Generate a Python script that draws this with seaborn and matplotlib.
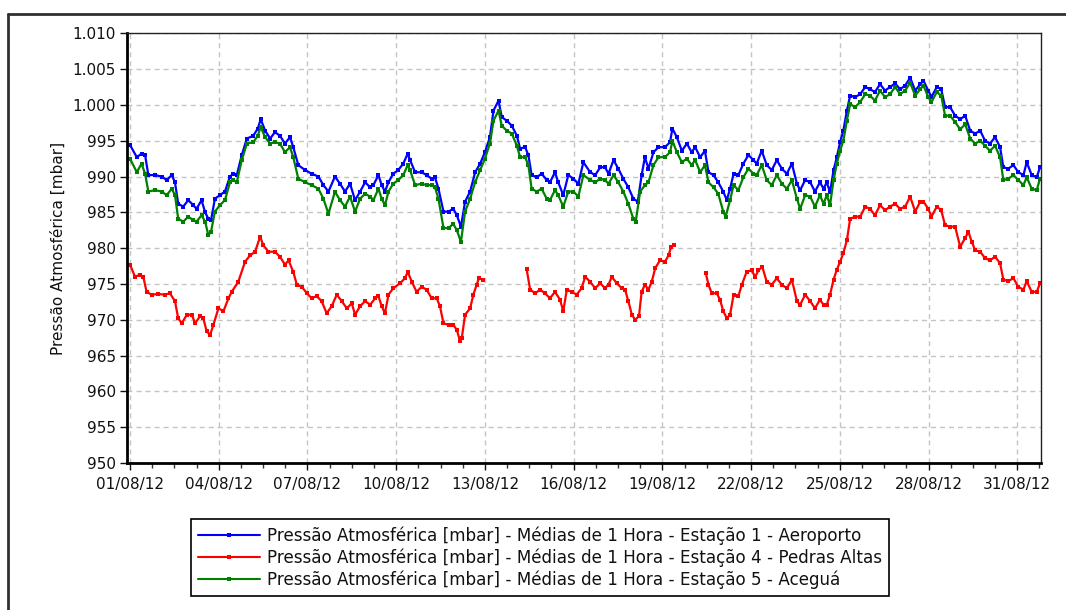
import numpy as np
import pandas as pd
import matplotlib
matplotlib.use("Agg")
import matplotlib.pyplot as plt
from matplotlib.lines import Line2D
from matplotlib.ticker import MultipleLocator
import seaborn as sns

# ---------------- data (day offset from 01/08/12 00:00, pressure in mbar) ----------------
x_tick_days = [0, 3, 6, 9, 12, 15, 18, 21, 24, 27, 30]
x_tick_labels = ["01/08/12", "04/08/12", "07/08/12", "10/08/12", "13/08/12", "16/08/12",
                 "19/08/12", "22/08/12", "25/08/12", "28/08/12", "31/08/12"]
y_ticks = [950, 955, 960, 965, 970, 975, 980, 985, 990, 995, 1000, 1005, 1010]
y_tick_labels = ["950", "955", "960", "965", "970", "975", "980", "985", "990", "995",
                 "1.000", "1.005", "1.010"]

series_names = [
    "Pressão Atmosférica [mbar] - Médias de 1 Hora - Estação 1 - Aeroporto",
    "Pressão Atmosférica [mbar] - Médias de 1 Hora - Estação 4 - Pedras Altas",
    "Pressão Atmosférica [mbar] - Médias de 1 Hora - Estação 5 - Aceguá",
]
series_colors = ["#0000ff", "#ff0000", "#008000"]

aero_days = [0, 0.23, 0.39, 0.51, 0.62, 0.85, 1.07, 1.24, 1.41, 1.52, 1.63, 1.8, 1.97, 2.14, 2.25,
             2.42, 2.54, 2.65, 2.74, 2.87, 3.04, 3.21, 3.38, 3.49, 3.61, 3.78, 3.95, 4.17, 4.32,
             4.42, 4.57, 4.74, 4.9, 5.07, 5.24, 5.41, 5.52, 5.69, 5.92, 6.14, 6.37, 6.54, 6.71,
             6.93, 7.1, 7.27, 7.44,
             7.61, 7.78, 7.95, 8.12, 8.23, 8.4, 8.51, 8.62, 8.74, 8.9, 9.07, 9.24, 9.39, 9.47,
             9.64, 9.86, 10.03, 10.2, 10.31, 10.43, 10.6, 10.77, 10.93, 11.05, 11.19, 11.33,
             11.5, 11.67, 11.84, 12.0, 12.17, 12.29, 12.46, 12.57, 12.74, 12.91, 13.08, 13.19,
             13.36, 13.47, 13.58, 13.75, 13.92, 14.09, 14.2, 14.37, 14.48, 14.65, 14.82, 14.99,
             15.16, 15.33,
             15.56, 15.73, 15.9, 16.06, 16.18, 16.35, 16.51, 16.68, 16.85, 17.02, 17.17, 17.3,
             17.41, 17.53, 17.7, 17.87, 18.09, 18.26, 18.34, 18.49, 18.66, 18.83, 18.99, 19.11,
             19.28, 19.44, 19.56, 19.73, 19.89, 20.06, 20.18, 20.29, 20.41, 20.57, 20.74, 20.91,
             21.08, 21.19, 21.36, 21.53, 21.7, 21.87, 22.04, 22.21, 22.38, 22.55, 22.66, 22.83,
             23.0, 23.16, 23.33,
             23.45, 23.56, 23.67, 23.79, 23.9, 24.01, 24.12, 24.24, 24.35, 24.52, 24.69, 24.86,
             25.02, 25.19, 25.36, 25.53, 25.7, 25.87, 26.04, 26.21, 26.38, 26.55, 26.72, 26.83,
             26.99, 27.1, 27.28, 27.43, 27.56, 27.73, 27.9, 28.07, 28.24, 28.41, 28.58, 28.75,
             28.91, 29.08, 29.25, 29.42, 29.53, 29.7, 29.87, 30.04, 30.21, 30.32, 30.49, 30.66,
             30.77]
aero_vals = [994.4, 992.7, 993.2, 993.0, 990.2, 990.2, 990.0, 989.5, 990.2, 989.2, 986.2, 985.8,
             986.7, 986.0, 985.5, 986.7, 985.0, 984.1, 983.9, 986.9, 987.4, 987.9, 990.0, 990.4,
             990.2, 993.0, 995.3, 995.7, 996.7, 998.0, 996.4, 995.3, 996.2, 995.7, 994.6, 995.5,
             994.1, 991.6, 990.9, 990.4, 990.0, 988.8, 987.9, 990.0, 989.0, 987.9, 989.0,
             986.7, 987.9, 989.2, 988.5, 988.8, 990.2, 988.8, 987.9, 989.2, 990.4, 990.9, 991.8,
             993.2, 992.3, 990.6, 990.6, 990.2, 989.7, 989.9, 988.3, 985.1, 985.1, 985.5, 984.6,
             983.0, 986.5, 987.9, 990.6, 991.8, 993.4, 995.5, 999.2, 1000.6, 998.3, 997.8, 997.1,
             995.7, 993.9, 994.1, 993.0, 990.2, 989.9, 990.4, 989.5, 989.2, 990.6, 989.2, 987.4,
             990.2, 989.7, 989.0, 992.0,
             990.6, 990.2, 991.3, 991.3, 990.4, 992.3, 991.1, 989.7, 988.5, 986.9, 986.5, 990.2,
             992.7, 991.1, 993.4, 994.1, 994.1, 994.8, 996.7, 995.5, 993.6, 994.6, 993.4, 994.1,
             992.7, 993.6, 990.6, 990.2, 989.2, 987.9, 986.7, 988.3, 990.4, 990.2, 991.8, 993.0,
             992.3, 991.8, 993.6, 991.6, 990.9, 992.3, 991.1, 990.4, 991.8, 989.0, 988.1, 989.5,
             989.2, 987.9, 989.2,
             988.3, 989.2, 987.8, 990.9, 992.7, 994.8, 996.4, 999.2, 1001.3, 1001.1, 1001.5,
             1002.5, 1002.2, 1001.8, 1002.9, 1002.0, 1002.5, 1003.0, 1002.2, 1002.7, 1003.8,
             1002.0, 1002.9, 1003.4, 1002.0, 1001.1, 1002.5, 1002.2, 999.7, 999.7, 998.5, 998.0,
             998.5, 996.4, 996.0, 996.4, 995.0, 994.6, 995.5, 994.1, 991.3, 991.1, 991.6, 990.6,
             990.2, 992.0, 990.2, 989.9, 991.3]

acegua_days = [0, 0.23, 0.39, 0.51, 0.62, 0.85, 1.07, 1.24, 1.41, 1.52, 1.63, 1.8, 1.97, 2.14,
               2.25, 2.42, 2.54, 2.65, 2.74, 2.87, 3.04, 3.21, 3.38, 3.49, 3.61, 3.78, 3.95,
               4.17, 4.32, 4.42, 4.57, 4.74, 4.9, 5.07, 5.24, 5.41, 5.52, 5.69, 5.92, 6.14,
               6.37, 6.54, 6.71, 6.93, 7.1, 7.27, 7.44,
               7.61, 7.78, 7.95, 8.12, 8.23, 8.4, 8.51, 8.62, 8.74, 8.9, 9.07, 9.24, 9.39, 9.47,
               9.64, 9.86, 10.03, 10.2, 10.31, 10.43, 10.6, 10.77, 10.93, 11.05, 11.19, 11.33,
               11.5, 11.67, 11.84, 12.0, 12.17, 12.29, 12.46, 12.57, 12.74, 12.91, 13.08, 13.19,
               13.36, 13.47, 13.58, 13.75, 13.92, 14.09, 14.2, 14.37, 14.48, 14.65, 14.82,
               14.99, 15.16, 15.33,
               15.56, 15.73, 15.9, 16.06, 16.18, 16.35, 16.51, 16.68, 16.85, 17.02, 17.1, 17.25,
               17.41, 17.53, 17.7, 17.87, 18.09, 18.26, 18.34, 18.49, 18.66, 18.83, 18.99,
               19.11, 19.28, 19.44, 19.56, 19.73, 19.89, 20.06, 20.14, 20.29, 20.41, 20.57,
               20.74, 20.91, 21.08, 21.19, 21.36, 21.53, 21.7, 21.87, 22.04, 22.21, 22.38,
               22.55, 22.66, 22.83, 23.0, 23.16, 23.33,
               23.45, 23.56, 23.67, 23.79, 23.9, 24.01, 24.12, 24.24, 24.35, 24.52, 24.69,
               24.86, 25.02, 25.19, 25.36, 25.53, 25.7, 25.87, 26.04, 26.21, 26.38, 26.55,
               26.72, 26.83, 26.99, 27.1, 27.28, 27.43, 27.56, 27.73, 27.9, 28.07, 28.24, 28.41,
               28.58, 28.75, 28.91, 29.08, 29.25, 29.42, 29.53, 29.7, 29.87, 30.04, 30.21,
               30.32, 30.49, 30.66, 30.77]
acegua_vals = [992.5, 990.6, 991.8, 990.4, 987.9, 988.1, 987.9, 987.4, 988.3, 987.4, 984.1,
               983.7, 984.4, 983.9, 983.7, 984.6, 983.7, 981.8, 982.3, 985.1, 986.0, 986.7,
               989.2, 989.5, 989.2, 992.3, 994.6, 994.8, 995.7, 996.9, 995.5, 994.6, 994.8,
               994.6, 993.4, 994.1, 992.7, 989.7, 989.2, 988.8, 988.3, 986.9, 984.8, 987.9,
               986.7, 985.8, 987.2,
               985.1, 986.9, 987.6, 987.2, 986.7, 988.3, 986.9, 986.0, 987.9, 989.0, 989.5,
               990.2, 991.6, 990.9, 988.8, 989.0, 988.8, 988.8, 988.5, 986.9, 982.8, 982.8,
               983.4, 982.5, 980.9, 985.1, 986.9, 989.2, 990.9, 992.5, 994.6, 997.8, 999.2,
               997.1, 996.4, 996.0, 994.3, 992.7, 992.7, 991.6, 988.3, 987.9, 988.3, 986.9,
               986.7, 988.1, 987.4, 985.8, 987.9, 987.9, 987.2, 990.2,
               989.5, 989.2, 989.7, 989.5, 989.0, 990.2, 989.2, 987.9, 986.2, 984.1, 983.7,
               987.9, 988.8, 989.2, 991.6, 992.7, 992.7, 993.4, 995.0, 993.4, 992.0, 992.5,
               991.6, 992.3, 990.6, 991.6, 989.2, 988.5, 987.6, 985.1, 984.4, 986.7, 988.8,
               988.1, 989.9, 991.1, 990.4, 990.2, 991.6, 989.5, 988.8, 990.2, 989.0, 988.3,
               989.5, 986.9, 985.5, 987.4, 987.2, 985.8, 987.4,
               986.2, 987.4, 986.0, 989.5, 991.8, 993.6, 995.0, 997.8, 1000.1, 999.7, 1000.4,
               1001.5, 1001.3, 1000.6, 1002.0, 1001.1, 1001.5, 1002.5, 1001.5, 1002.0, 1003.1,
               1001.3, 1002.2, 1002.7, 1001.1, 1000.4, 1001.8, 1001.3, 998.5, 998.5, 997.6,
               996.6, 997.3, 995.3, 994.6, 995.0, 994.3, 993.6, 994.3, 992.7, 989.5, 989.7,
               990.2, 989.5, 988.8, 989.9, 988.3, 988.1, 989.7]

# Pedras Altas has two data gaps (NaN)
pedras_days = [0, 0.17, 0.34, 0.45, 0.56, 0.73, 0.96, 1.18, 1.35, 1.52, 1.63, 1.75, 1.92, 2.09,
               2.2, 2.37, 2.48, 2.59, 2.71, 2.82, 2.99, 3.16, 3.33, 3.44, 3.66, 3.89, 4.06,
               4.23, 4.4, 4.51, 4.68, 4.9, 5.07, 5.24, 5.36, 5.52, 5.64, 5.81, 5.98, 6.14, 6.31,
               6.48, 6.65, 6.82, 6.99, 7.16, 7.33, 7.5,
               7.61, 7.78, 7.95, 8.12, 8.29, 8.4, 8.51, 8.62, 8.74, 8.9, 9.13, 9.3, 9.39, 9.53,
               9.69, 9.86, 10.03, 10.2, 10.37, 10.48, 10.6, 10.77, 10.93, 11.05, 11.16, 11.22,
               11.33, 11.5, 11.61, 11.72, 11.8, 11.92,
               12.6,
               13.41, 13.53, 13.7, 13.87, 14.03, 14.2, 14.37, 14.54, 14.65, 14.77, 14.94, 15.1,
               15.27, 15.39, 15.56, 15.73, 15.9, 16.06, 16.18, 16.29, 16.46, 16.63, 16.74,
               16.85, 16.97, 17.08, 17.21, 17.3, 17.41, 17.53, 17.64, 17.76, 17.92, 18.09,
               18.21, 18.3, 18.41,
               18.9,
               19.47, 19.56, 19.67, 19.84, 19.95, 20.06, 20.18, 20.29, 20.41, 20.57, 20.69,
               20.85, 21.02, 21.14, 21.25, 21.38, 21.53, 21.7, 21.87, 22.04, 22.21, 22.38,
               22.55, 22.66, 22.83, 23.0, 23.16, 23.33,
               23.45, 23.56, 23.67, 23.79, 23.9, 24.01, 24.12, 24.24, 24.35, 24.52, 24.69,
               24.86, 25.02, 25.19, 25.36, 25.53, 25.7, 25.87, 26.04, 26.21, 26.38, 26.55,
               26.72, 26.83, 26.99, 27.1, 27.28, 27.43, 27.56, 27.73, 27.9, 28.07, 28.24, 28.35,
               28.46, 28.58, 28.75, 28.91, 29.08, 29.25, 29.42, 29.53, 29.7, 29.87, 30.04,
               30.21, 30.32, 30.49, 30.66, 30.77]
pedras_vals = [977.7, 976.0, 976.3, 976.0, 973.9, 973.5, 973.6, 973.5, 973.7, 972.6, 970.2,
               969.5, 970.7, 970.7, 969.5, 970.5, 970.2, 968.4, 967.9, 969.3, 971.6, 971.2,
               973.0, 973.9, 975.3, 978.1, 979.0, 979.5, 981.6, 980.4, 979.5, 979.5, 978.8,
               977.7, 978.3, 976.7, 974.9, 974.6, 973.7, 973.0, 973.3, 972.6, 970.9, 971.9,
               973.5, 972.6, 971.6, 972.3,
               970.7, 971.9, 972.6, 972.1, 973.0, 973.3, 971.9, 970.9, 973.5, 974.4, 975.1,
               975.8, 976.7, 975.3, 973.9, 974.6, 974.2, 973.0, 973.0, 971.9, 969.5, 969.3,
               969.3, 968.6, 967.0, 967.5, 970.7, 971.6, 973.5, 974.9, 975.8, 975.6,
               np.nan,
               977.1, 974.2, 973.7, 974.2, 973.7, 973.0, 973.9, 972.8, 971.2, 974.2, 973.9,
               973.5, 974.4, 976.0, 975.3, 974.4, 975.1, 974.4, 974.9, 976.0, 975.1, 974.4,
               974.2, 972.6, 970.7, 970.0, 970.5, 973.9, 974.9, 974.2, 975.3, 977.2, 978.3,
               978.1, 979.0, 980.2, 980.4,
               np.nan,
               976.5, 974.9, 973.7, 973.7, 972.8, 971.2, 970.2, 970.7, 973.5, 973.3, 974.9,
               976.7, 976.9, 976.0, 976.9, 977.4, 975.3, 974.9, 975.8, 974.9, 974.4, 975.6,
               972.6, 972.1, 973.5, 972.6, 971.6, 972.8,
               972.1, 972.1, 973.5, 975.6, 977.0, 978.1, 979.3, 981.1, 984.1, 984.4, 984.4,
               985.8, 985.5, 984.6, 986.0, 985.3, 985.8, 986.2, 985.5, 985.8, 987.2, 985.1,
               986.5, 986.5, 985.5, 984.4, 985.8, 985.3, 983.2, 983.0, 983.0, 980.2, 981.4,
               982.3, 980.9, 979.7, 979.5, 978.6, 978.3, 978.8, 977.9, 975.6, 975.4, 975.8,
               974.6, 974.2, 975.4, 973.9, 973.9, 975.1]

# ---------------- build long-form table ----------------
frames = []
for name, days, vals in zip(series_names,
                            [aero_days, pedras_days, acegua_days],
                            [aero_vals, pedras_vals, acegua_vals]):
    d = pd.DataFrame({"day": days, "mbar": vals})
    d["segment"] = d["mbar"].isna().cumsum()
    d["series"] = name
    frames.append(d.dropna())
df = pd.concat(frames, ignore_index=True)
df["unit"] = df["series"] + "_" + df["segment"].astype(str)

# ---------------- figure ----------------
sns.set_theme(style="white")
plt.rcParams['font.family'] = ['DejaVu Sans']
plt.rcParams['text.color'] = '#111111'
plt.rcParams['axes.labelcolor'] = '#111111'

fig = plt.figure(figsize=(10.66, 6.10), dpi=100)
ax = fig.add_axes([0.1196, 0.241, 0.8574, 0.7044])

sns.lineplot(data=df, x="day", y="mbar", hue="series", hue_order=series_names,
             palette=dict(zip(series_names, series_colors)), units="unit",
             estimator=None, sort=False, legend=False, ax=ax,
             linewidth=1.6, marker="s", markersize=2.6, markeredgewidth=0)

ax.set_xlim(-0.085, 30.82)
ax.set_ylim(950, 1010)
ax.set_xticks(x_tick_days)
ax.set_xticklabels(x_tick_labels)
ax.xaxis.set_minor_locator(MultipleLocator(0.75))
ax.set_yticks(y_ticks)
ax.set_yticklabels(y_tick_labels)
ax.set_xlabel("")
ax.set_ylabel("Pressão Atmosférica [mbar]", fontsize=11, color="#111111", labelpad=5)

ax.tick_params(axis="x", which="major", direction="out", length=5, width=1,
               pad=5, labelsize=11, colors="#111111", bottom=True)
ax.tick_params(axis="x", which="minor", direction="out", length=3.5, width=1,
               colors="#333333", bottom=True)
ax.tick_params(axis="y", which="major", direction="out", length=5, width=1,
               pad=3.5, labelsize=11, colors="#111111", left=True)

for side in ["left", "bottom"]:
    ax.spines[side].set_linewidth(2.0)
    ax.spines[side].set_color("black")
for side in ["top", "right"]:
    ax.spines[side].set_linewidth(1.0)
    ax.spines[side].set_color("#222222")

ax.grid(True, which="major", color="#c4c4c4", linestyle=(0, (3.6, 2.9)), linewidth=1.0)
ax.set_axisbelow(True)

# outer frame (top and left edges visible)
fig.add_artist(Line2D([0.0075, 1.0], [0.977, 0.977], transform=fig.transFigure,
                      color="#303030", linewidth=2.0))
fig.add_artist(Line2D([0.0075, 0.0075], [0.0, 0.977], transform=fig.transFigure,
                      color="#303030", linewidth=2.0))

handles = [Line2D([], [], color=c, linewidth=1.5, marker="s", markersize=2.6,
                  markeredgewidth=0) for c in series_colors]
leg = fig.legend(handles, series_names, loc="center", bbox_to_anchor=(0.5066, 0.0861),
                 frameon=True, fancybox=False, edgecolor="black", framealpha=1,
                 fontsize=12.1, handlelength=3.65, handletextpad=0.42, labelspacing=0.2,
                 borderpad=0.45, borderaxespad=0, numpoints=1, labelcolor="#111111")
leg.get_frame().set_linewidth(1.2)

fig.savefig("out.png", dpi=100, facecolor="white")
